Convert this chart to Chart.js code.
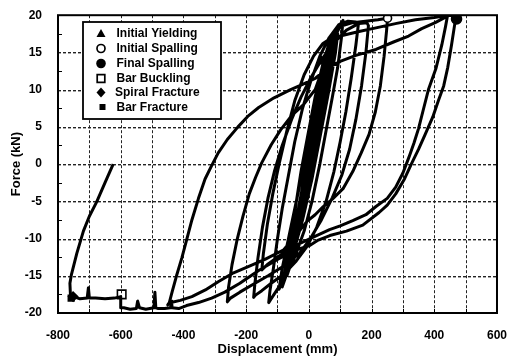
<!DOCTYPE html>
<html>
<head>
<meta charset="utf-8">
<script src="https://cdn.jsdelivr.net/npm/chart.js@4.4.0/dist/chart.umd.min.js"></script>
<style>
  html, body { margin: 0; padding: 0; background: #fff; }
  #wrap { width: 514px; height: 362px; }
</style>
</head>
<body>
<div id="wrap"><canvas id="chart"></canvas></div>
<script>
// tick labels
const xTickLabels = [-800, -600, -400, -200, 0, 200, 400, 600];
const yTickLabels = [-20, -15, -10, -5, 0, 5, 10, 15, 20];

// force-displacement path, read branch by branch off the picture [mm, kN]
const elasticCycles = [
  [0, 0], [20, 4], [40, 8.5], [60, 12.5], [70, 14], [62, 12], [40, 6.5], [15, 1], [-10, -4.5],
  [-35, -9.5], [-55, -13], [-62, -14], [-50, -11], [-30, -6], [-8, -1], [15, 4], [40, 9.5],
  [65, 14], [85, 16.5], [92, 17.5], [85, 15], [62, 9.5], [35, 3.5], [10, -2], [-20, -7.5],
  [-50, -12], [-80, -15.5], [-95, -16.8], [-85, -14], [-65, -10], [-40, -5], [-15, 0], [10, 5],
  [40, 10.5], [65, 14.5], [75, 15.5], [50, 10], [25, 4.5], [0, -1], [-25, -6.5], [-45, -10.5],
  [-70, -14.5], [-60, -12], [-40, -7.5], [-20, -3], [0, 2], [25, 7], [50, 12], [70, 15], [90, 18]
];
const coreCycles = [
  [70, 13.5], [45, 8], [20, 2.5], [-5, -3], [-35, -9], [-60, -13.5], [-85, -16.5], [-75, -14],
  [-55, -9.5], [-38, -4.5], [-25, -1], [-5, 3.5], [20, 9], [45, 13.5], [70, 17], [95, 18.7],
  [80, 15.5], [60, 11], [38, 6], [18, 1.5], [-8, -4], [-30, -8.5], [-50, -12.5], [-70, -15],
  [-58, -12], [-40, -8], [-22, -3.5], [-5, 1], [15, 6], [40, 11.5], [65, 15.5], [90, 18]
];
const cycle110 = [
  [100, 18.8], [109, 19.3], [104, 17], [92, 13], [75, 9], [55, 4.5], [35, 0], [10, -5], [-15, -9],
  [-45, -12.5], [-75, -15], [-100, -16.8], [-122, -18.2], [-128, -18.6], [-124, -17], [-113, -14],
  [-100, -10], [-85, -6], [-65, -1.5], [-45, 3], [-20, 7.5], [5, 11], [35, 14.5], [65, 17],
  [95, 18.7], [125, 19.2], [150, 19.1], [158, 18.8]
];
const cycle160 = [
  [150, 16], [135, 11.5], [118, 7], [100, 3], [80, -1], [55, -5], [25, -8.5], [-5, -11], [-40, -13],
  [-80, -14.8], [-120, -16], [-150, -17], [-170, -17.6], [-176, -17.9], [-172, -16], [-162, -12.5],
  [-148, -8.5], [-130, -4.5], [-110, -1], [-85, 2.5], [-55, 6], [-25, 9], [5, 11.5], [40, 14],
  [80, 16.3], [120, 18], [160, 18.9], [185, 19], [190, 18.6]
];
const cycle190 = [
  [182, 15], [168, 10.5], [150, 6], [130, 2], [105, -1.5], [75, -4.5], [40, -7.5], [5, -10],
  [-30, -12], [-80, -13.7], [-130, -15], [-180, -16.2], [-220, -17.2], [-250, -18], [-260, -18.5]
];
const reload260 = [
  [-256, -16.5], [-245, -13.5], [-228, -10], [-210, -7], [-190, -4], [-170, -1.8], [-150, 0.2],
  [-120, 2.6], [-90, 4.6], [-55, 6.5], [-17, 8], [20, 10], [50, 13.5], [75, 16.5], [100, 18.5],
  [140, 19], [180, 19.2], [220, 19.4], [251, 19.6]
];
const unload250 = [
  [248, 18], [240, 14.5], [228, 10.5], [212, 7], [192, 4], [167, 1.5], [140, -1], [109, -3.3],
  [75, -4.7], [46, -5.7], [20, -6.8], [-6, -7.7], [-40, -9.5], [-80, -11.5], [-140, -12.8],
  [-184, -13.6], [-240, -14.6], [-289, -15.8], [-330, -16.9], [-373, -17.8], [-410, -18.3],
  [-440, -18.6], [-450, -18.9]
];
const reload450 = [
  [-445, -18.6], [-435, -17], [-422, -15], [-405, -12.6], [-390, -10.2], [-373, -7.5], [-352, -4.6],
  [-331, -2], [-310, -0.2], [-289, 1.5], [-260, 3.3], [-226, 5], [-195, 6.4], [-160, 7.6],
  [-111, 8.9], [-58, 10], [-20, 10.7], [20, 11.5], [57, 12.8], [100, 13.8], [150, 14.6],
  [214, 15.4], [270, 16.4], [318, 17.2], [360, 18.2], [403, 19], [430, 19.6], [442, 19.9]
];
const unload440 = [
  [436, 18.5], [424, 16], [405, 12.8], [382, 10.1], [365, 7.3], [350, 4.8], [335, 2.8], [319, 0.9],
  [300, -1.2], [277, -3.1], [250, -4.6], [214, -5.7], [182, -6.8], [140, -7.6], [100, -8.3],
  [66, -8.8], [35, -9.4], [4, -10], [-30, -10.7], [-80, -11.9], [-130, -13.4], [-150, -14.2]
];
const reload150 = [
  [-145, -12], [-132, -8], [-115, -4], [-95, 0], [-70, 4.5], [-45, 8.5], [-15, 12], [15, 14.5],
  [45, 16.2], [67, 16.8], [110, 17.3], [160, 17.8], [214, 18.3], [280, 18.9], [340, 19.4],
  [400, 19.7], [444, 20], [465, 19.9], [471, 19.6]
];
const unload470 = [
  [466, 19], [455, 16], [443, 13], [430, 10.5], [413, 8.5], [395, 6.3], [371, 4], [350, 2],
  [329, 0.2], [305, -2], [277, -4], [250, -5.5], [224, -6.5], [172, -8.2], [120, -9], [67, -9.6],
  [30, -10.2], [4, -10.9], [-30, -11.4], [-60, -11.9], [-100, -12.8], [-160, -14.3], [-220, -16],
  [-268, -17.2], [-310, -18], [-352, -18.6], [-390, -19], [-415, -19.4], [-436, -19.3]
];
const finalPush = [
  [-438, -18.4], [-441, -19.3], [-460, -19.4], [-480, -19.4], [-488, -19.3], [-491, -17.2],
  [-494, -19.3], [-520, -19.5], [-540, -19.3], [-546, -18.4], [-550, -19.4], [-570, -19.5],
  [-590, -19.3], [-600, -19.3], [-600, -17.8], [-620, -18], [-650, -18.1], [-680, -18], [-700, -18],
  [-703, -16.6], [-707, -18], [-730, -18.1], [-750, -17.8], [-760, -17.9], [-762, -16],
  [-757, -14.8], [-740, -12], [-719, -9], [-700, -7], [-677, -5.1], [-650, -2.5], [-624, 0]
];

// damage events
const initialYielding = [[40, 13.8]];
const initialSpalling = [[251, 19.6]];
const finalSpalling = [[471, 19.5]];
const barBuckling = [[-597, -17.5]];
const spiralFracture = [[-752, -17.8]];
const barFracture = [[-758, -18]];

const legendLabels = ['Initial Yielding', 'Initial Spalling', 'Final Spalling',
  'Bar Buckling', 'Spiral Fracture', 'Bar Fracture'];

const toXY = arr => arr.map(([x, y]) => ({ x, y }));

const path = toXY([].concat(elasticCycles, coreCycles, cycle110, cycle160, cycle190, reload260,
  unload250, reload450, unload440, reload150, unload470, finalPush));

const FONT = 'Arial, "Liberation Sans", Helvetica, sans-serif';

function marker(data, style, radius, fill) {
  return {
    data: toXY(data),
    showLine: false,
    pointStyle: style,
    pointRadius: radius,
    pointBackgroundColor: fill,
    pointBorderColor: '#000',
    pointBorderWidth: 1.6,
    order: 0,
  };
}

function drawSymbol(ctx, i, x, y) {
  ctx.save();
  ctx.fillStyle = '#000';
  ctx.strokeStyle = '#000';
  ctx.lineWidth = 1.7;
  ctx.beginPath();
  if (i === 0) {
    ctx.moveTo(x, y - 4.5);
    ctx.lineTo(x + 4.5, y + 3.5);
    ctx.lineTo(x - 4.5, y + 3.5);
    ctx.closePath();
    ctx.fill();
  } else if (i === 1) {
    ctx.arc(x, y, 4, 0, Math.PI * 2);
    ctx.stroke();
  } else if (i === 2) {
    ctx.arc(x, y, 4.8, 0, Math.PI * 2);
    ctx.fill();
  } else if (i === 3) {
    ctx.rect(x - 3.8, y - 3.8, 7.6, 7.6);
    ctx.stroke();
  } else if (i === 4) {
    ctx.moveTo(x, y - 5);
    ctx.lineTo(x + 4.5, y);
    ctx.lineTo(x, y + 5);
    ctx.lineTo(x - 4.5, y);
    ctx.closePath();
    ctx.fill();
  } else {
    ctx.rect(x - 3, y - 3, 6, 6);
    ctx.fill();
  }
  ctx.restore();
}

// dashed grid drawn as small filled blocks
const gridPlugin = {
  id: 'dashGrid',
  beforeDatasetsDraw(chart) {
    const { ctx, chartArea: a, scales } = chart;
    ctx.save();
    ctx.fillStyle = '#222';
    for (let v = -700; v < 600; v += 100) {
      const px = Math.round(scales.x.getPixelForValue(v));
      for (let y = a.top; y < a.bottom; y += 5) {
        ctx.fillRect(px, y, 1, Math.min(3, a.bottom - y));
      }
    }
    for (let v = -15; v < 20; v += 5) {
      const py = Math.round(scales.y.getPixelForValue(v));
      for (let x = a.left; x < a.right; x += 5) {
        ctx.fillRect(x, py, Math.min(3, a.right - x), 1.4);
      }
    }
    ctx.restore();
  }
};

const framePlugin = {
  id: 'frame',
  afterDraw(chart) {
    const { ctx, chartArea: a, scales } = chart;
    ctx.save();
    // minor ticks
    ctx.strokeStyle = '#000';
    ctx.lineWidth = 1;
    ctx.beginPath();
    for (let v = -700; v < 600; v += 100) {
      const px = Math.round(scales.x.getPixelForValue(v)) + 0.5;
      ctx.moveTo(px, a.bottom);
      ctx.lineTo(px, a.bottom - 4);
    }
    for (let v = -17.5; v < 20; v += 5) {
      const py = Math.round(scales.y.getPixelForValue(v)) + 0.5;
      ctx.moveTo(a.left, py);
      ctx.lineTo(a.left + 4, py);
    }
    ctx.stroke();
    // plot frame
    ctx.lineWidth = 2;
    ctx.strokeRect(a.left, a.top, a.right - a.left, a.bottom - a.top);

    // legend box
    const bx = 83, by = 22, bw = 138, bh = 97;
    ctx.fillStyle = '#fff';
    ctx.fillRect(bx, by, bw, bh);
    ctx.lineWidth = 1.8;
    ctx.strokeRect(bx, by, bw, bh);
    ctx.font = 'bold 12px ' + FONT;
    ctx.textBaseline = 'middle';
    ctx.textAlign = 'left';
    const rows = [33.5, 48.5, 63.5, 78.5, 92.5, 107];
    legendLabels.forEach((t, i) => {
      drawSymbol(ctx, i, i === 5 ? 102.5 : 101, rows[i]);
      ctx.fillStyle = '#000';
      ctx.fillText(t, i === 4 ? 115 : 116.5, rows[i] + 0.5);
    });
    ctx.restore();
  }
};

new Chart(document.getElementById('chart'), {
  type: 'scatter',
  data: {
    datasets: [
      marker(initialYielding, 'triangle', 4.5, '#000'),
      marker(initialSpalling, 'circle', 4, '#fff'),
      marker(finalSpalling, 'circle', 5, '#000'),
      marker(barBuckling, 'rect', 6, 'rgba(255,255,255,0)'),
      marker(spiralFracture, 'rectRot', 4.5, '#000'),
      marker(barFracture, 'rect', 4, '#000'),
      {
        data: path,
        showLine: true,
        borderColor: '#000',
        borderWidth: 3,
        pointRadius: 0,
        tension: 0,
        borderJoinStyle: 'round',
        order: 1,
      },
    ],
  },
  options: {
    responsive: true,
    maintainAspectRatio: false,
    animation: false,
    devicePixelRatio: 1,
    layout: { padding: { top: 10, right: 11, left: 0, bottom: 0 } },
    plugins: {
      legend: { display: false },
      tooltip: { enabled: false },
    },
    scales: {
      x: {
        type: 'linear',
        min: -800,
        max: 600,
        afterFit: (s) => { s.height = 49; },
        ticks: {
          stepSize: 100,
          autoSkip: false,
          maxRotation: 0,
          padding: 7,
          color: '#000',
          font: { family: FONT, size: 12, weight: 'bold' },
          callback: (v) => (xTickLabels.includes(v) ? String(v) : ''),
        },
        grid: { display: false },
        border: { display: false },
        title: {
          display: true,
          text: 'Displacement (mm)',
          color: '#000',
          font: { family: FONT, size: 13, weight: 'bold' },
          padding: { top: 0, bottom: 5 },
        },
      },
      y: {
        min: -20,
        max: 20,
        afterFit: (s) => { s.width = 58; },
        ticks: {
          stepSize: 5,
          padding: 8,
          color: '#000',
          font: { family: FONT, size: 12, weight: 'bold' },
          callback: (v) => (yTickLabels.includes(v) ? String(v) : ''),
        },
        grid: { display: false },
        border: { display: false },
        title: {
          display: true,
          text: 'Force (kN)',
          color: '#000',
          font: { family: FONT, size: 13, weight: 'bold' },
          padding: { top: 9, bottom: 0 },
        },
      },
    },
  },
  plugins: [gridPlugin, framePlugin],
});
</script>
</body>
</html>
